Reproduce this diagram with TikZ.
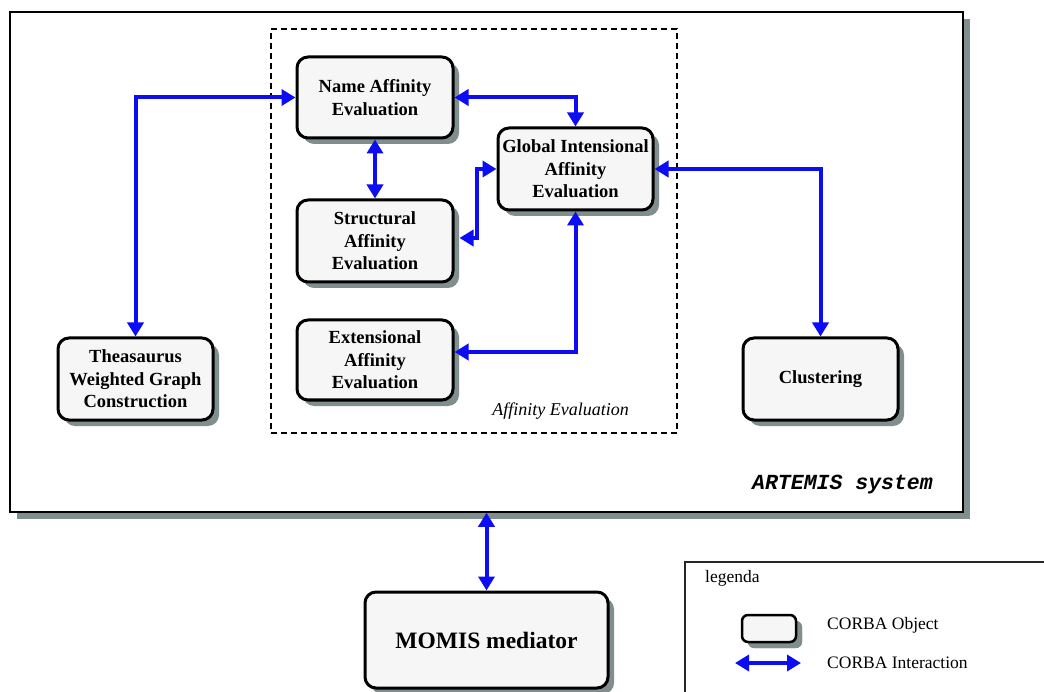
\documentclass[tikz,border=0pt]{standalone}
\usepackage{fontspec}
\setmainfont{Liberation Serif}
\newfontfamily\courfont{Liberation Mono}
\usetikzlibrary{arrows.meta,shadows}
\definecolor{shgray}{RGB}{128,142,142}
\definecolor{boxfill}{RGB}{246,246,246}
\definecolor{linkblue}{RGB}{12,12,245}
\tikzset{
  obj/.style={draw=black, line width=3pt, rounded corners=11pt, fill=boxfill,
    align=center, inner sep=0pt,
    font=\fontsize{18.5}{22.5}\selectfont\bfseries,
    drop shadow={shadow xshift=6pt, shadow yshift=-6pt, fill=shgray, opacity=1}},
  link/.style={draw=linkblue, line width=4pt,
    {Triangle[length=14pt,width=16pt]}-{Triangle[length=14pt,width=16pt]}},
  legtext/.style={anchor=west, inner sep=0pt, font=\fontsize{17.5}{20}\selectfont},
}
\begin{document}
\begin{tikzpicture}[x=1pt,y=-1pt]
\useasboundingbox (0,0) rectangle (1044,692);
\fill[white] (0,0) rectangle (1044,692);

% ARTEMIS system frame
\node[draw=black, line width=1.5pt, fill=white, inner sep=0pt,
      minimum width=953pt, minimum height=500pt,
      drop shadow={shadow xshift=7pt, shadow yshift=-7pt, fill=shgray, opacity=1}]
      (artemis) at (486.5,262) {};
\node[font={\courfont\fontsize{21.5}{24}\selectfont\bfseries\itshape}, inner sep=0pt]
      (artlabel) at (842.5,485) {ARTEMIS system};

% Affinity Evaluation dashed group
\node[draw=black, line width=1.6pt, dash pattern=on 6pt off 4pt, inner sep=0pt,
      minimum width=406pt, minimum height=404pt] (affinity) at (474,231) {};
\node[font=\fontsize{18}{20}\selectfont\itshape, inner sep=0pt]
      (afflabel) at (560.5,411) {Affinity Evaluation};

% CORBA objects
\node[obj, minimum width=156pt, minimum height=81pt] (name) at (375,97.5)
      {Name Affinity\\Evaluation};
\node[obj, minimum width=156pt, minimum height=82pt] (struct) at (375,241)
      {Structural\\Affinity\\Evaluation};
\node[obj, minimum width=156pt, minimum height=80pt] (ext) at (375,360)
      {Extensional\\Affinity\\Evaluation};
\node[obj, minimum width=155pt, minimum height=82pt] (global) at (575.5,169)
      {Global Intensional\\Affinity\\Evaluation};
\node[obj, minimum width=155pt, minimum height=82pt] (thea) at (135.5,379)
      {Theasaurus\\Weighted Graph\\Construction};
\node[obj, minimum width=155pt, minimum height=82pt] (clust) at (820.5,379)
      {Clustering};
\node[obj, minimum width=243pt, minimum height=96pt,
      font=\fontsize{23.5}{26}\selectfont\bfseries] (momis) at (486.5,640)
      {MOMIS mediator};

% CORBA interactions
\draw[link] (thea.north) |- (name.west);
\draw[link] (name.south) -- (struct.north);
\draw[link] (name.east) -| (global.north);
\draw[link] ([xshift=5pt,yshift=3pt]struct.east) -- ++(17,0) |- (global.west);
\draw[link] ([yshift=8pt]ext.east) -| (global.south);
\draw[link] (global.east) -| (clust.north);
\draw[link] (momis.north) -- (momis.north |- artemis.south);

% Legend
\draw[line width=1.2pt, draw=black!85] (1044,562) -- (685,562) -- (685,692);
\node[legtext] (legtitle) at (705,578) {legenda};
\node[obj, line width=2.5pt, rounded corners=6pt, minimum width=54pt, minimum height=27pt,
      drop shadow={shadow xshift=6pt, shadow yshift=-6pt, fill=shgray, opacity=1}]
      (legobj) at (769,628.5) {};
\node[legtext] (legobjtext) at (827,625) {CORBA Object};
\coordinate (la) at (735,663);
\coordinate (lb) at (801,663);
\draw[link] (la) -- (lb);
\node[legtext] (leglinktext) at (827,663) {CORBA Interaction};
\end{tikzpicture}
\end{document}
